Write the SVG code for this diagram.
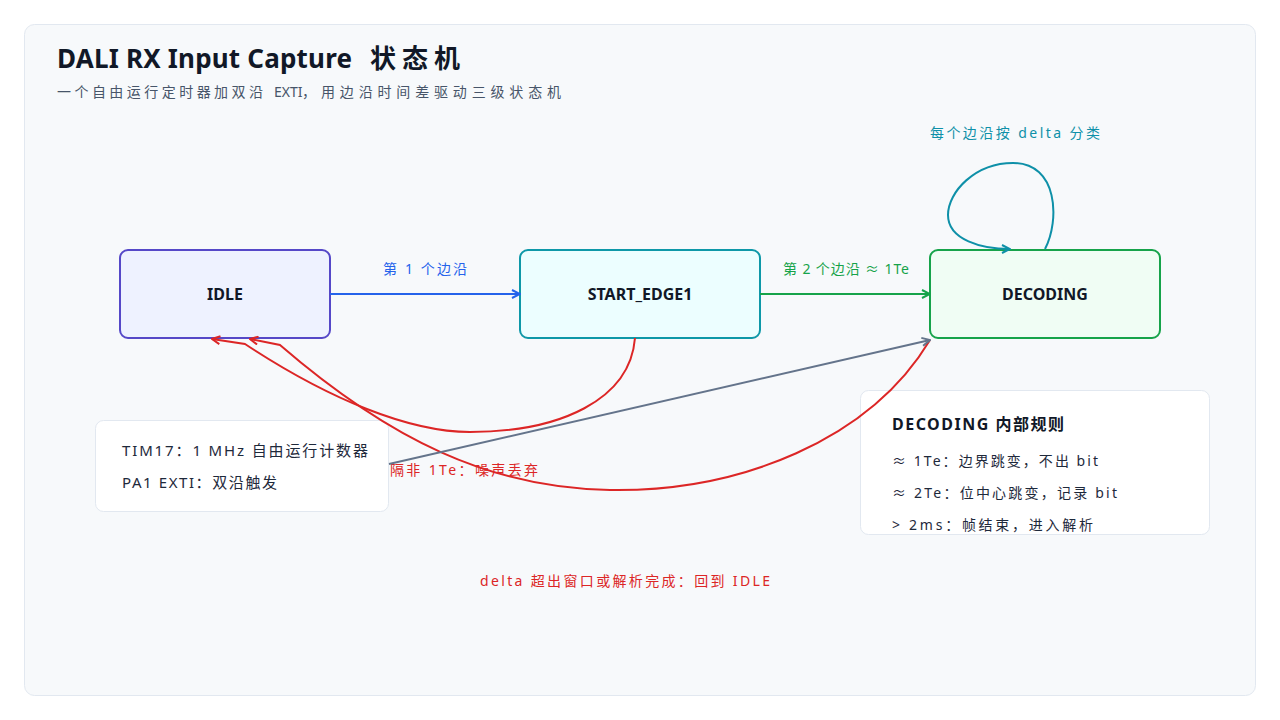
<svg xmlns="http://www.w3.org/2000/svg" width="1280" height="720" viewBox="0 0 1280 720">
<style>
text{font-family:"Noto Sans","Noto Sans CJK SC",sans-serif}
.title{font-size:26px;font-weight:700;fill:#111827}
.sub{font-size:14px;fill:#475569}
.node{font-size:16px;font-weight:700;fill:#111827;text-anchor:middle}
.lbl{font-size:14px}
.info{font-size:15px;fill:#1e293b}
.rule{font-size:14px;fill:#1e293b}
.conn{fill:none;stroke-width:2}
.card{fill:#ffffff;stroke:#e2e8f0;stroke-width:1}
</style>
<defs>
<marker id="mBlue" viewBox="0 0 10 10" refX="9" refY="5" markerWidth="10" markerHeight="10" markerUnits="userSpaceOnUse" orient="auto"><path d="M1,1 L9,5 L1,9" fill="none" stroke="#2563eb" stroke-width="2"/></marker>
<marker id="mGreen" viewBox="0 0 10 10" refX="9" refY="5" markerWidth="10" markerHeight="10" markerUnits="userSpaceOnUse" orient="auto"><path d="M1,1 L9,5 L1,9" fill="none" stroke="#16a34a" stroke-width="2"/></marker>
<marker id="mCyan" viewBox="0 0 10 10" refX="9" refY="5" markerWidth="10" markerHeight="10" markerUnits="userSpaceOnUse" orient="auto"><path d="M1,1 L9,5 L1,9" fill="none" stroke="#0e90a8" stroke-width="2"/></marker>
<marker id="mRed" viewBox="0 0 10 10" refX="9" refY="5" markerWidth="10" markerHeight="10" markerUnits="userSpaceOnUse" orient="auto"><path d="M1,1 L9,5 L1,9" fill="none" stroke="#dc2626" stroke-width="2"/></marker>
<marker id="mGray" viewBox="0 0 10 10" refX="9" refY="5" markerWidth="10" markerHeight="10" markerUnits="userSpaceOnUse" orient="auto"><path d="M1,1 L9,5 L1,9" fill="none" stroke="#64748b" stroke-width="2"/></marker>
</defs>
<rect x="0" y="0" width="1280" height="720" fill="#ffffff"/>
<rect x="24.5" y="24.5" width="1231" height="671" rx="10" fill="#f7f9fb" stroke="#e2e8f0"/>
<text class="title" y="68"><tspan x="57" textLength="295" lengthAdjust="spacing">DALI RX Input Capture</tspan><tspan x="370" textLength="90" lengthAdjust="spacing">状态机</tspan></text>
<text class="sub" y="97"><tspan x="57" textLength="206" lengthAdjust="spacing">一个自由运行定时器加双沿</tspan><tspan x="274">EXTI</tspan><tspan x="302">，</tspan><tspan x="321" textLength="240" lengthAdjust="spacing">用边沿时间差驱动三级状态机</tspan></text>

<g id="lbl-edge1"><text class="lbl" x="383" y="274" fill="#2563eb" textLength="84" lengthAdjust="spacing">第 1 个边沿</text></g>
<g id="lbl-edge2"><text class="lbl" x="783" y="274" fill="#16a34a" textLength="126" lengthAdjust="spacing">第 2 个边沿 ≈ 1Te</text></g>
<g id="lbl-loop"><text class="lbl" x="930" y="138" fill="#0e90a8" textLength="170" lengthAdjust="spacing">每个边沿按 delta 分类</text></g>
<g id="lbl-noise"><text class="lbl" x="390" y="475" fill="#dc2626" textLength="148" lengthAdjust="spacing">隔非 1Te：噪声丢弃</text></g>

<g id="idle">
<rect x="120" y="250" width="210" height="88" rx="8" fill="#eef2ff" stroke="#5548c8" stroke-width="2"/>
<text class="node" x="225" y="300">IDLE</text>
</g>
<g id="start_edge1">
<rect x="520" y="250" width="240" height="88" rx="8" fill="#ecfeff" stroke="#0e98a8" stroke-width="2"/>
<text class="node" x="640" y="300">START_EDGE1</text>
</g>
<g id="decoding">
<rect x="930" y="250" width="230" height="88" rx="8" fill="#f0fdf4" stroke="#16a34a" stroke-width="2"/>
<text class="node" x="1045" y="300">DECODING</text>
</g>

<g id="hw-info">
<rect class="card" x="95.5" y="420.5" width="293" height="91" rx="8"/>
<text class="info" x="122" y="456" textLength="246" lengthAdjust="spacing">TIM17：1 MHz 自由运行计数器</text>
<text class="info" x="122" y="488" textLength="155" lengthAdjust="spacing">PA1 EXTI：双沿触发</text>
</g>

<g id="rules">
<rect class="card" x="860.5" y="390.5" width="349" height="144" rx="8"/>
<text x="892" y="430" style="font-size:16px;font-weight:700;fill:#111827" textLength="172" lengthAdjust="spacing">DECODING 内部规则</text>
<text class="rule" x="892" y="466" textLength="206" lengthAdjust="spacing">≈ 1Te：边界跳变，不出 bit</text>
<text class="rule" x="892" y="498" textLength="225" lengthAdjust="spacing">≈ 2Te：位中心跳变，记录 bit</text>
<text class="rule" x="892" y="530" textLength="201" lengthAdjust="spacing">&gt; 2ms：帧结束，进入解析</text>
</g>

<g id="lbl-return"><text class="lbl" x="480" y="586" fill="#dc2626" textLength="290" lengthAdjust="spacing">delta 超出窗口或解析完成：回到 IDLE</text></g>

<g id="connectors">
<path class="conn" d="M330,294 L520,294" stroke="#2563eb" marker-end="url(#mBlue)"/>
<path class="conn" d="M760,294 L930,294" stroke="#16a34a" marker-end="url(#mGreen)"/>
<path class="conn" d="M1045,249 C1060,220 1058,163 1013,163 C975,163 948,192 948,215 C948,240 982,249 1010,249" stroke="#0e90a8" marker-end="url(#mCyan)"/>
<path class="conn" d="M635,338 C630,400 560,432 470,432 C410,432 330,400 245,344 L212,339" stroke="#dc2626" marker-end="url(#mRed)"/>
<path class="conn" d="M930,340 C870,440 740,492 610,490 C490,488 390,440 280,345 L250,339" stroke="#dc2626" marker-end="url(#mRed)"/>
<path class="conn" d="M389,464 L930,340" stroke="#64748b" marker-end="url(#mGray)"/>
</g>
</svg>
